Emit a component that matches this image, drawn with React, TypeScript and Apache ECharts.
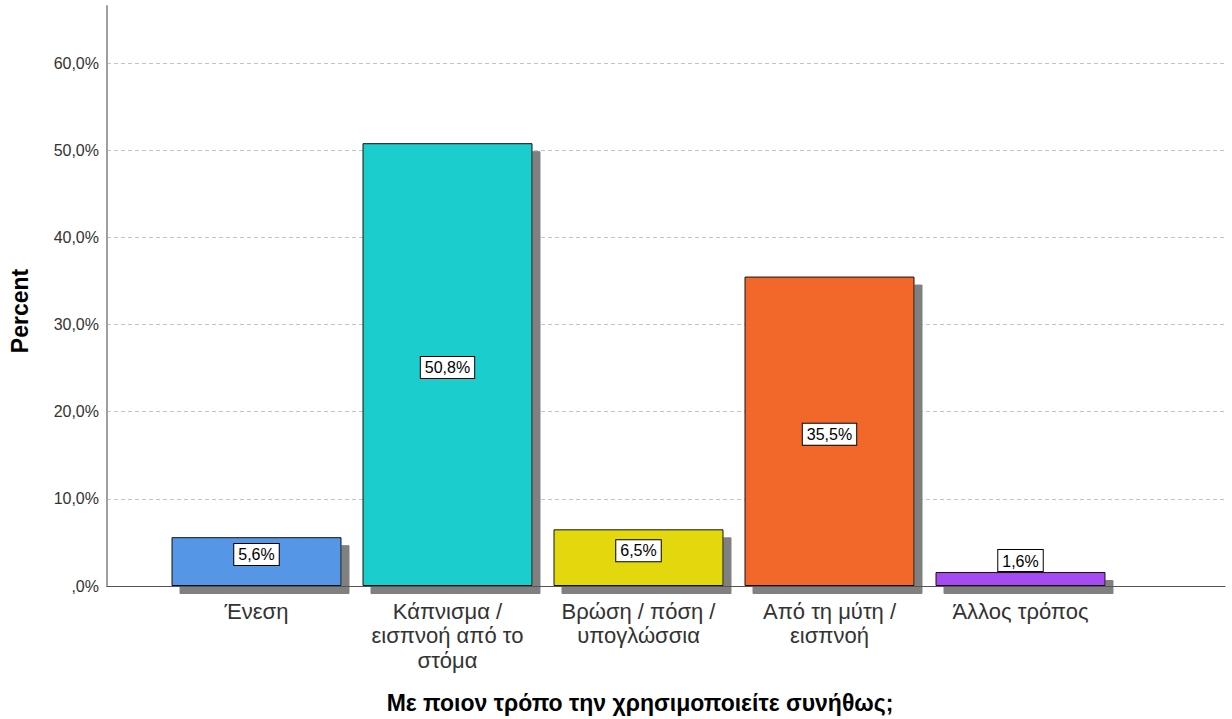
import React, { useEffect, useRef } from "react";
import * as echarts from "echarts";

const categories = [
  "Ένεση",
  "Κάπνισμα /\nεισπνοή από το\nστόμα",
  "Βρώση / πόση /\nυπογλώσσια",
  "Από τη μύτη /\nεισπνοή",
  "Άλλος τρόπος",
];
const values = [5.6, 50.8, 6.5, 35.5, 1.6];
const barColors = ["#5596E6", "#1CCDCD", "#E2D810", "#F1672B", "#A64BF2"];
const yTitle = "Percent";
const xTitle = "Με ποιον τρόπο την χρησιμοποιείτε συνήθως;";
const yMin = 0;
const yMax = 60;
const yInterval = 10;

const FONT = "'Liberation Sans', Arial, sans-serif";
const fmt = (v: number) =>
  v === 0 ? ",0%" : v.toFixed(1).replace(".", ",") + "%";

export default function App() {
  const ref = useRef<HTMLDivElement>(null);
  useEffect(() => {
    if (!ref.current) return;
    const chart = echarts.init(ref.current, undefined, { renderer: "svg" });
    const data = values.map((v, i) => {
      let label: any;
      if (v < 3) {
        label = { position: "top", distance: 0, offset: [0, -1] };
      } else if (v < 10) {
        label = { position: "inside", offset: [0, -7] };
      } else {
        label = { position: "inside", offset: [0, 3] };
      }
      return {
        value: v,
        itemStyle: { color: barColors[i] },
        label,
      };
    });
    chart.setOption({
      animation: false,
      backgroundColor: "#ffffff",
      grid: [
        { left: 107, right: 7, top: 6, bottom: 133 },
        { left: 161, right: 116, top: 63, bottom: 133 },
        { left: 107, right: 7, top: 63, bottom: 133 },
      ],
      xAxis: [
        {
          gridIndex: 0,
          type: "value",
          min: 0,
          max: 1,
          axisLine: { show: true, onZero: false, lineStyle: { color: "#555555", width: 1 } },
          axisTick: { show: false },
          axisLabel: { show: false },
          splitLine: { show: false },
          z: 5,
        },
        {
          gridIndex: 1,
          type: "category",
          data: categories,
          axisLine: { show: false },
          axisTick: { show: false },
          axisLabel: {
            color: "#333333",
            fontFamily: FONT,
            fontSize: 22,
            lineHeight: 24.5,
            margin: 13,
            interval: 0,
            align: "center",
          },
        },
        {
          gridIndex: 2,
          type: "value",
          min: 0,
          max: 1,
          show: false,
        },
      ],
      yAxis: [
        {
          gridIndex: 0,
          type: "value",
          min: 0,
          max: 1,
          axisLine: { show: true, lineStyle: { color: "#a0a0a0", width: 2 } },
          axisTick: { show: false },
          axisLabel: { show: false },
          splitLine: { show: false },
          z: 5,
        },
        {
          gridIndex: 1,
          type: "value",
          min: yMin,
          max: yMax,
          interval: yInterval,
          show: false,
        },
        {
          gridIndex: 2,
          type: "value",
          min: yMin,
          max: yMax,
          interval: yInterval,
          axisLine: { show: false },
          axisTick: { show: false },
          axisLabel: {
            formatter: (v: number) => fmt(v),
            color: "#333333",
            fontFamily: FONT,
            fontSize: 16,
            margin: 8,
          },
          splitLine: {
            show: true,
            lineStyle: { color: "#c4c4c4", type: [4, 3], width: 1 },
          },
        },
      ],
      series: [
        {
          type: "bar",
          xAxisIndex: 1,
          yAxisIndex: 1,
          data,
          barWidth: 170,
          z: 3,
          itemStyle: {
            borderColor: "#111111",
            borderWidth: 1,
            shadowColor: "#808080",
            shadowBlur: 0,
            shadowOffsetX: 8,
            shadowOffsetY: 8,
          },
          label: {
            show: true,
            formatter: (p: any) => fmt(p.value),
            color: "#000000",
            fontFamily: FONT,
            fontSize: 16,
            backgroundColor: "#ffffff",
            borderColor: "#000000",
            borderWidth: 1,
            padding: [3, 4, 2, 4],
          },
        },
      ],
      graphic: [
        {
          type: "text",
          x: 20,
          y: 311,
          rotation: Math.PI / 2,
          style: {
            text: yTitle,
            fill: "#000000",
            font: `bold 23px ${FONT}`,
            align: "center",
            verticalAlign: "middle",
          },
        },
        {
          type: "text",
          x: 640,
          y: 703,
          style: {
            text: xTitle,
            fill: "#000000",
            font: `bold 23px ${FONT}`,
            align: "center",
            verticalAlign: "middle",
          },
        },
      ],
    });
    return () => chart.dispose();
  }, []);
  return (
    <div
      ref={ref}
      style={{ position: "fixed", left: 0, top: 0, width: 1232, height: 719, background: "#fff" }}
    />
  );
}
